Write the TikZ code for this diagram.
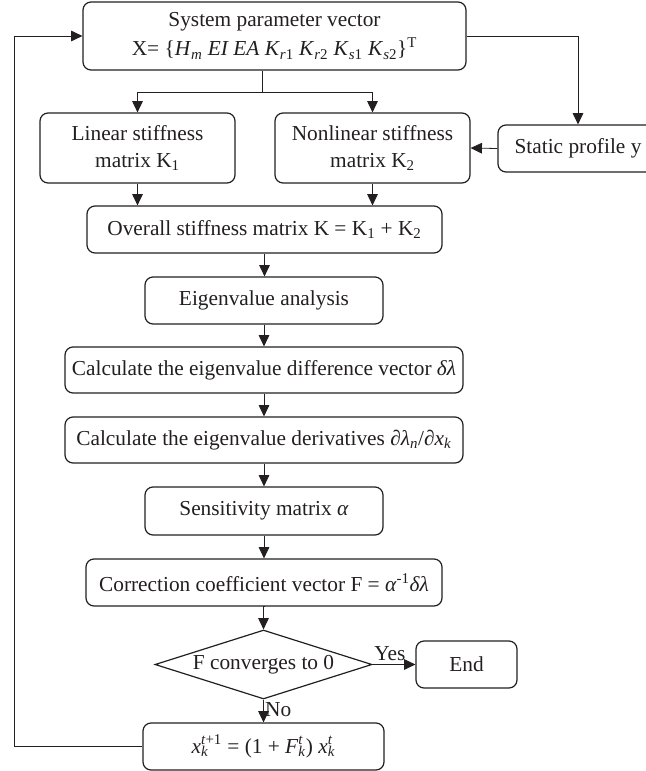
\documentclass[tikz,border=0pt]{standalone}
\usepackage{fontspec}
\setmainfont{Liberation Serif}
\usetikzlibrary{shapes.geometric,arrows.meta}
\definecolor{ink}{HTML}{231F20}
\newsavebox\supbx
\newsavebox\subbx
\newcommand\supsub[2]{\sbox\supbx{\textsuperscript{#1}}\sbox\subbx{\textsubscript{#2}}\ifdim\wd\supbx>\wd\subbx\relax\rlap{\usebox\subbx}\usebox\supbx\else\rlap{\usebox\supbx}\usebox\subbx\fi}
\begin{document}
\begin{tikzpicture}[x=0.75pt,y=-0.75pt,
  every node/.style={text=ink},
  flowbox/.style n args={2}{draw=ink, line width=0.9pt, rounded corners=6pt, inner sep=0pt,
     align=center, font=\fontsize{16}{20.5}\selectfont,
     minimum width=#1*0.75pt, minimum height=#2*0.75pt},
  decision/.style n args={2}{draw=ink, line width=0.9pt, diamond, aspect=3.14, inner sep=0pt,
     align=center, font=\fontsize{16}{20}\selectfont,
     minimum width=#1*0.75pt, minimum height=#2*0.75pt},
  conn/.style={draw=ink, line width=0.6pt},
  arr/.style={conn, -{Triangle[length=8.5pt,width=8pt]}},
  lbl/.style={font=\fontsize{16}{18}\selectfont, inner sep=1pt}]
\useasboundingbox (0,0) rectangle (646,771);

\node[flowbox={383}{68}] (top) at (274.5,36) {System parameter vector\\[1pt]
  X= \{\textit{H}\textsubscript{\textit{m}} \textit{EI EA K}\textsubscript{\textit{r}1} \textit{K}\textsubscript{\textit{r}2} \textit{K}\textsubscript{\textit{s}1} \textit{K}\textsubscript{\textit{s}2}\}\textsuperscript{T}};
\node[flowbox={195}{70}] (lin) at (137.5,148) {Linear stiffness\\matrix K\textsubscript{1}};
\node[flowbox={195}{70}] (nonlin) at (372.5,148) {Nonlinear stiffness\\matrix K\textsubscript{2}};
\node[flowbox={160}{47}] (static) at (578,148.5) {Static profile y};
\node[flowbox={355}{47}] (overall) at (264.5,229.5) {Overall stiffness matrix K = K\textsubscript{1} + K\textsubscript{2}};
\node[flowbox={238}{47}] (eigen) at (264,300.5) {Eigenvalue analysis};
\node[flowbox={398}{46}] (calc1) at (264,370) {Calculate the eigenvalue difference vector \textit{δλ}};
\node[flowbox={398}{46}] (calc2) at (264,440) {Calculate the eigenvalue derivatives \textit{∂λ}\textsubscript{\textit{n}}/\textit{∂x}\textsubscript{\textit{k}}};
\node[flowbox={238}{48}] (sens) at (264,511) {Sensitivity matrix \textit{α}};
\node[flowbox={356}{47}] (corr) at (264,582.5) {Correction coefficient vector F = \textit{α}\textsuperscript{-1}\textit{δλ}};
\node[decision={217}{69}] (dia) at (263.5,664.5) {F converges to 0};
\node[flowbox={101}{47}] (end) at (466.5,664.5) {End};
\node[flowbox={241}{47}] (final) at (263.5,746.5) {\textit{x}\supsub{\textit{t}+1}{\textit{k}} = (1 + \textit{F}\supsub{\textit{t}}{\textit{k}}) \textit{x}\supsub{\textit{t}}{\textit{k}}};

\coordinate (sp) at (262,92);
\coordinate (fbl) at (14,0);

\draw[conn] (top.south -| sp) -- (sp);
\draw[arr] (sp) -| (lin.north);
\draw[arr] (sp) -| (nonlin.north);
\draw[arr] (top.east) -| (static.north);
\draw[arr] (static.west) -- (nonlin.east);
\draw[arr] (lin.south) -- (lin.south |- overall.north);
\draw[arr] (nonlin.south) -- (nonlin.south |- overall.north);
\draw[arr] (overall.south) -- (overall.south |- eigen.north);
\draw[arr] (eigen.south) -- (calc1.north);
\draw[arr] (calc1.south) -- (calc2.north);
\draw[arr] (calc2.south) -- (sens.north);
\draw[arr] (sens.south) -- (corr.north);
\draw[arr] (corr.south) -- (corr.south -| dia.north) -- (dia.north);
\draw[arr] (dia.east) -- node[lbl, pos=0.0, anchor=south west, yshift=1.5pt] (yes) {Yes} (end.west);
\draw[arr] (dia.south) -- node[lbl, pos=0.45, anchor=west] (no) {No} (final.north);
\draw[arr] (final.west) -- (final.west -| fbl) -- (fbl |- top.west) -- (top.west);
\end{tikzpicture}
\end{document}
